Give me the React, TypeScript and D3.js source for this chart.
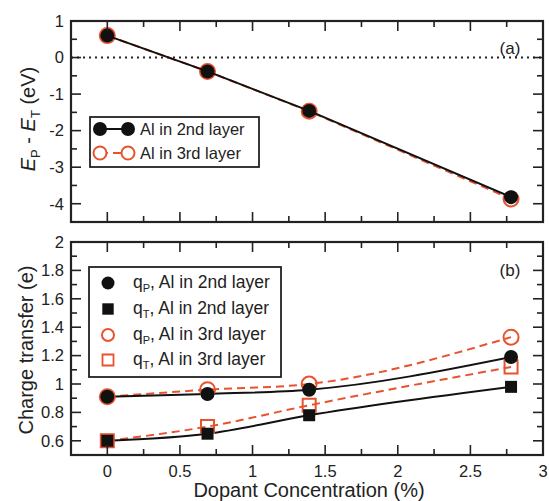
import React from "react";
import * as d3 from "d3";

// dopant concentration (%)
const conc = [0, 0.69, 1.39, 2.78];

// panel (a): E_P - E_T (eV)
const dE2nd = [0.6, -0.38, -1.46, -3.82];
const dE3rd = [0.6, -0.38, -1.47, -3.87];

// panel (b): charge transfer (e)
const qP2nd = [0.91, 0.93, 0.96, 1.19];
const qT2nd = [0.6, 0.65, 0.78, 0.98];
const qP3rd = [0.91, 0.96, 1.0, 1.33];
const qT3rd = [0.6, 0.7, 0.85, 1.12];

const xTicks = [0, 0.5, 1, 1.5, 2, 2.5, 3];
const yTicksA = [-4, -3, -2, -1, 0, 1];
const yTicksB = [0.6, 0.8, 1, 1.2, 1.4, 1.6, 1.8, 2];

const RED = "#e8532f";
const FONT = "Liberation Sans, Arial, Helvetica, sans-serif";

const W = 549;
const H = 501;
const left = 71;
const right = 543;

const x = d3.scaleLinear().domain([-0.25, 3]).range([left, right]);
const yA = d3.scaleLinear().domain([-4.5, 1]).range([222, 21]);
const yB = d3.scaleLinear().domain([0.5, 2]).range([455, 242]);

type Pt = [number, number];
const pts = (vals: number[]): Pt[] => conc.map((c, i) => [c, vals[i]]);

function Frame({ y, yMajor, yMinor, xLabels }: any) {
  const [y0, y1] = y.range();
  const xMinor = d3.range(-0.25, 3.01, 0.25).filter((v) => Math.abs(v * 2 - Math.round(v * 2)) > 0.01);
  const big = 10;
  const small = 6;
  return (
    <g>
      {xTicks.map((t) => (
        <g key={"xM" + t}>
          <line x1={x(t)} x2={x(t)} y1={y0} y2={y0 - big} stroke="#222" strokeWidth={1.6} />
          <line x1={x(t)} x2={x(t)} y1={y1} y2={y1 + big} stroke="#222" strokeWidth={1.6} />
        </g>
      ))}
      {xMinor.map((t) => (
        <g key={"xm" + t}>
          <line x1={x(t)} x2={x(t)} y1={y0} y2={y0 - small} stroke="#222" strokeWidth={1.6} />
          <line x1={x(t)} x2={x(t)} y1={y1} y2={y1 + small} stroke="#222" strokeWidth={1.6} />
        </g>
      ))}
      {yMajor.map((t: number) => (
        <g key={"yM" + t}>
          <line x1={left} x2={left + big} y1={y(t)} y2={y(t)} stroke="#222" strokeWidth={1.6} />
          <line x1={right} x2={right - big} y1={y(t)} y2={y(t)} stroke="#222" strokeWidth={1.6} />
          <text x={left - 7} y={y(t)} dy="0.35em" textAnchor="end" fontSize={16.5} fontFamily={FONT} fill="#222">
            {t}
          </text>
        </g>
      ))}
      {yMinor.map((t: number) => (
        <g key={"ym" + t}>
          <line x1={left} x2={left + small} y1={y(t)} y2={y(t)} stroke="#222" strokeWidth={1.6} />
          <line x1={right} x2={right - small} y1={y(t)} y2={y(t)} stroke="#222" strokeWidth={1.6} />
        </g>
      ))}
      {xLabels &&
        xTicks.map((t) => (
          <text key={"xl" + t} x={x(t)} y={y0 + 22} textAnchor="middle" fontSize={16.5} fontFamily={FONT} fill="#222">
            {t}
          </text>
        ))}
      <rect x={left} y={y1} width={right - left} height={y0 - y1} fill="none" stroke="#222" strokeWidth={2.2} />
    </g>
  );
}

export default function App() {
  const lineA = d3
    .line<Pt>()
    .x((d) => x(d[0]))
    .y((d) => yA(d[1]));
  const lineB = d3
    .line<Pt>()
    .x((d) => x(d[0]))
    .y((d) => yB(d[1]))
    .curve(d3.curveMonotoneX);
  const sym = d3.symbol().type(d3.symbolSquare);

  const minorA = d3.range(-4.5, 1.01, 0.5).filter((v) => !Number.isInteger(v));
  const minorB = d3.range(0.5, 2.01, 0.1).filter((v) => Math.abs(v * 5 - Math.round(v * 5)) > 0.01);

  return (
    <svg width={W} height={H} style={{ position: "absolute", left: 0, top: 0, background: "#fff" }}>
      {/* panel (a) */}
      <line x1={left} x2={right} y1={yA(0)} y2={yA(0)} stroke="#222" strokeWidth={2} strokeDasharray="2,4" />
      <path d={lineA(pts(dE3rd)) || ""} fill="none" stroke={RED} strokeWidth={2} strokeDasharray="8,5" />
      {pts(dE3rd).map((d, i) => (
        <circle key={"a3" + i} cx={x(d[0])} cy={yA(d[1])} r={7.5} fill="none" stroke={RED} strokeWidth={2} />
      ))}
      <path d={lineA(pts(dE2nd)) || ""} fill="none" stroke="#111" strokeWidth={2} />
      {pts(dE2nd).map((d, i) => (
        <circle key={"a2" + i} cx={x(d[0])} cy={yA(d[1])} r={7} fill="#111" />
      ))}
      <Frame y={yA} yMajor={yTicksA} yMinor={minorA} xLabels={false} />
      <text x={510} y={54} textAnchor="middle" fontSize={17} fontFamily={FONT} fill="#222">(a)</text>

      {/* legend (a) */}
      <rect x={90} y={117} width={169} height={50} fill="#fff" stroke="#222" strokeWidth={1.8} />
      <line x1={100} x2={128} y1={129} y2={129} stroke="#111" strokeWidth={2} />
      <circle cx={100} cy={129} r={7} fill="#111" />
      <circle cx={128} cy={129} r={7} fill="#111" />
      <line x1={100} x2={128} y1={153} y2={153} stroke={RED} strokeWidth={2} strokeDasharray="8,5" />
      <circle cx={100} cy={153} r={6.5} fill="#fff" stroke={RED} strokeWidth={2} />
      <circle cx={128} cy={153} r={6.5} fill="#fff" stroke={RED} strokeWidth={2} />
      <text x={140} y={135} fontSize={16.5} fontFamily={FONT} fill="#222">Al in 2nd layer</text>
      <text x={140} y={159} fontSize={16.5} fontFamily={FONT} fill="#222">Al in 3rd layer</text>

      <text transform="translate(35,119) rotate(-90)" textAnchor="middle" fontSize={20} fontFamily={FONT} fill="#222">
        <tspan fontStyle="italic">E</tspan>
        <tspan fontSize={13} dy={5}>P</tspan>
        <tspan dy={-5}> - </tspan>
        <tspan fontStyle="italic">E</tspan>
        <tspan fontSize={13} dy={5}>T</tspan>
        <tspan dy={-5}> (eV)</tspan>
      </text>

      {/* panel (b) */}
      <path d={lineB(pts(qP3rd)) || ""} fill="none" stroke={RED} strokeWidth={2} strokeDasharray="8,5" />
      <path d={lineB(pts(qT3rd)) || ""} fill="none" stroke={RED} strokeWidth={2} strokeDasharray="8,5" />
      <path d={lineB(pts(qP2nd)) || ""} fill="none" stroke="#111" strokeWidth={2} />
      <path d={lineB(pts(qT2nd)) || ""} fill="none" stroke="#111" strokeWidth={2} />
      {pts(qP3rd).map((d, i) => (
        <circle key={"p3" + i} cx={x(d[0])} cy={yB(d[1])} r={7.5} fill="none" stroke={RED} strokeWidth={2} />
      ))}
      {pts(qT3rd).map((d, i) => (
        <path key={"t3" + i} d={sym.size(169)() || ""} transform={`translate(${x(d[0])},${yB(d[1])})`} fill="none" stroke={RED} strokeWidth={2} />
      ))}
      {pts(qP2nd).map((d, i) => (
        <circle key={"p2" + i} cx={x(d[0])} cy={yB(d[1])} r={7} fill="#111" />
      ))}
      {pts(qT2nd).map((d, i) => (
        <path key={"t2" + i} d={sym.size(144)() || ""} transform={`translate(${x(d[0])},${yB(d[1])})`} fill="#111" />
      ))}
      <Frame y={yB} yMajor={yTicksB} yMinor={minorB} xLabels={true} />
      <text x={510} y={276} textAnchor="middle" fontSize={17} fontFamily={FONT} fill="#222">(b)</text>

      {/* legend (b) */}
      <rect x={89} y={267} width={192} height={110} fill="#fff" stroke="#222" strokeWidth={1.8} />
      <circle cx={108} cy={283} r={6.5} fill="#111" />
      <path d={sym.size(130)() || ""} transform="translate(108,309)" fill="#111" />
      <circle cx={108} cy={335} r={6} fill="none" stroke={RED} strokeWidth={2} />
      <path d={sym.size(121)() || ""} transform="translate(108,360)" fill="none" stroke={RED} strokeWidth={1.8} />
      {[
        ["P", "2nd", 283],
        ["T", "2nd", 309],
        ["P", "3rd", 335],
        ["T", "3rd", 360],
      ].map(([s, l, yy]) => (
        <text key={`${s}${l}`} x={133} y={(yy as number) + 5} fontSize={17.5} fontFamily={FONT} fill="#222">
          q<tspan fontSize={11} dy={4}>{s}</tspan>
          <tspan dy={-4}>, Al in {l} layer</tspan>
        </text>
      ))}

      <text transform="translate(33,350) rotate(-90)" textAnchor="middle" fontSize={20} fontFamily={FONT} fill="#222">
        Charge transfer (e)
      </text>
      <text x={309} y={497} textAnchor="middle" fontSize={20} fontFamily={FONT} fill="#222">
        Dopant Concentration (%)
      </text>
    </svg>
  );
}
